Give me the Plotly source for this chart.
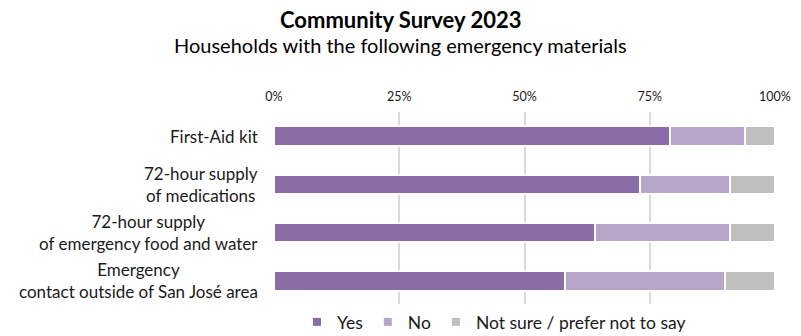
import plotly.graph_objects as go

categories = [
    "First-Aid kit",
    "72-hour supply<br>of medications",
    "72-hour supply<br>of emergency food and water",
    "Emergency<br>contact outside of San José area",
]
series_names = ["Yes", "No", "Not sure / prefer not to say"]
yes_vals = [79, 73, 64, 58]
no_vals = [15, 18, 27, 32]
unsure_vals = [6, 9, 9, 10]
tick_vals = [0, 25, 50, 75, 100]
tick_text = ["0%", "25%", "50%", "75%", "100%"]
title_text = "Community Survey 2023"
subtitle_text = "Households with the following emergency materials"

colors = ["#8a6ca7", "#b7a5c9", "#bfbfbf"]
FONT = "Lato"
TXT = "#1a1a1a"

L, R, T, B = 274, 26, 112, 31
W, H = 801, 336
PH = H - T - B
PW = W - L - R

fig = go.Figure()
for name, vals, col in zip(series_names, [yes_vals, no_vals, unsure_vals], colors):
    fig.add_trace(go.Bar(
        x=vals, y=categories, orientation="h", name=name,
        marker=dict(color=col, line=dict(color="white", width=2)),
        showlegend=False, hoverinfo="x+name",
    ))
    fig.add_trace(go.Scatter(
        x=[None], y=[None], mode="markers", name=name,
        marker=dict(symbol="square", size=8, color=col),
        showlegend=True,
    ))

for cat in categories:
    fig.add_annotation(
        x=0, xref="paper", y=cat, yref="y", text=cat,
        xanchor="right", yanchor="middle", align="center",
        xshift=-14, showarrow=False,
        font=dict(family=FONT, size=17, color=TXT),
    )

cx = (W / 2 - L) / PW
fig.add_annotation(
    x=cx, xref="paper", y=1 + (T - 19) / PH, yref="paper",
    text="<b>" + title_text + "</b>", showarrow=False,
    xanchor="center", yanchor="middle",
    font=dict(family=FONT, size=22, color="#000"),
)
fig.add_annotation(
    x=cx, xref="paper", y=1 + (T - 45) / PH, yref="paper",
    text=subtitle_text, showarrow=False,
    xanchor="center", yanchor="middle",
    font=dict(family=FONT, size=20, color="#000"),
)

fig.update_layout(
    width=W, height=H,
    barmode="stack", bargap=0.6,
    margin=dict(l=L, r=R, t=T, b=B, autoexpand=False),
    paper_bgcolor="white", plot_bgcolor="white",
    font=dict(family=FONT, color=TXT),
    xaxis=dict(
        side="top", range=[0, 100], tickvals=tick_vals, ticktext=tick_text,
        showgrid=True, gridcolor="#d9d9d9", gridwidth=2, zeroline=False,
        showline=False, ticks="", tickfont=dict(family=FONT, size=12.5, color=TXT),
        ticklabelstandoff=8, fixedrange=True,
    ),
    yaxis=dict(
        categoryorder="array", categoryarray=categories, autorange="reversed",
        showticklabels=False, showgrid=False, zeroline=False, ticks="",
        fixedrange=True,
    ),
    legend=dict(
        orientation="h", x=(297 - L) / PW, xanchor="left",
        y=-(322 - (H - B)) / PH, yanchor="middle",
        font=dict(family=FONT, size=17.5, color=TXT),
        traceorder="normal", itemwidth=30, tracegroupgap=0,
    ),
)

fig.write_html("out.html")
